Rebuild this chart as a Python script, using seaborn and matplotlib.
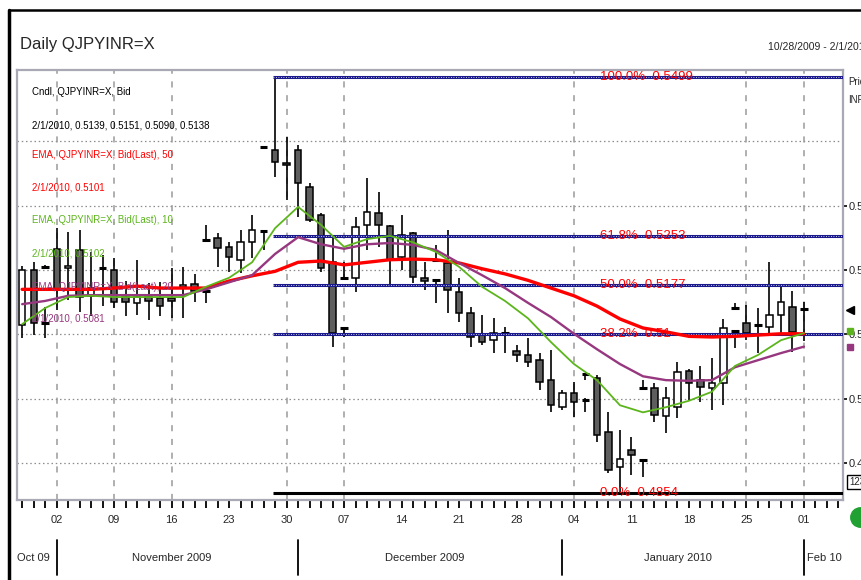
import matplotlib
matplotlib.use('Agg')
import numpy as np
import pandas as pd
import seaborn as sns
from matplotlib import pyplot as plt
from matplotlib.lines import Line2D
from matplotlib.transforms import blended_transform_factory

sns.set_style('white')
plt.rcParams['font.family'] = ['Liberation Sans', 'DejaVu Sans']

# trading days, 10/28/2009 - 2/1/2010
days = pd.bdate_range('2009-10-28', '2010-02-01')

opens = [0.5115, 0.5200, 0.5205, 0.5233, 0.5203, 0.5231, 0.5160, 0.5203, 0.5200, 0.5158,
         0.5149, 0.5158, 0.5157, 0.5157, 0.5174, 0.5178, 0.5247, 0.5250, 0.5236, 0.5216,
         0.5243, 0.5261, 0.5386, 0.5366, 0.5386, 0.5329, 0.5285, 0.5212, 0.5110, 0.5188,
         0.5270, 0.5289, 0.5268, 0.5220, 0.5257, 0.5188, 0.5184, 0.5211, 0.5166, 0.5133,
         0.5099, 0.5091, 0.5102, 0.5074, 0.5068, 0.5060, 0.5029, 0.4987, 0.5009, 0.4998,
         0.5032, 0.4948, 0.4894, 0.4920, 0.4905, 0.5017, 0.4973, 0.4987, 0.5043, 0.5029,
         0.5017, 0.5025, 0.5105, 0.5118, 0.5115, 0.5111, 0.5130, 0.5143, 0.5139]
highs = [0.5206, 0.5212, 0.5208, 0.5265, 0.5259, 0.5262, 0.5228, 0.5223, 0.5219, 0.5183,
         0.5216, 0.5180, 0.5181, 0.5203, 0.5205, 0.5194, 0.5270, 0.5257, 0.5243, 0.5262,
         0.5285, 0.5262, 0.5499, 0.5407, 0.5394, 0.5335, 0.5289, 0.5254, 0.5112, 0.5282,
         0.5343, 0.5321, 0.5270, 0.5285, 0.5259, 0.5212, 0.5184, 0.5262, 0.5188, 0.5143,
         0.5130, 0.5125, 0.5111, 0.5084, 0.5094, 0.5071, 0.5076, 0.5014, 0.5026, 0.5001,
         0.5037, 0.4979, 0.4952, 0.4941, 0.4905, 0.5025, 0.5018, 0.5057, 0.5046, 0.5051,
         0.5063, 0.5124, 0.5107, 0.5146, 0.5141, 0.5212, 0.5177, 0.5167, 0.5151]
lows = [0.5094, 0.5099, 0.5203, 0.5138, 0.5153, 0.5135, 0.5129, 0.5144, 0.5141, 0.5129,
        0.5130, 0.5122, 0.5129, 0.5125, 0.5125, 0.5150, 0.5246, 0.5205, 0.5197, 0.5195,
        0.5219, 0.5231, 0.5344, 0.5309, 0.5282, 0.5275, 0.5197, 0.5080, 0.5096, 0.5166,
        0.5231, 0.5236, 0.5174, 0.5200, 0.5180, 0.5169, 0.5149, 0.5133, 0.5119, 0.5080,
        0.5084, 0.5071, 0.5071, 0.5057, 0.5049, 0.5014, 0.4979, 0.4982, 0.4972, 0.4979,
        0.4933, 0.4885, 0.4854, 0.4882, 0.4879, 0.4964, 0.4947, 0.4970, 0.4998, 0.4995,
        0.4983, 0.4990, 0.5079, 0.5091, 0.5071, 0.5102, 0.5102, 0.5073, 0.5090]
closes = [0.5200, 0.5118, 0.5205, 0.5170, 0.5206, 0.5158, 0.5172, 0.5202, 0.5150, 0.5150,
          0.5158, 0.5152, 0.5144, 0.5152, 0.5177, 0.5167, 0.5247, 0.5234, 0.5220, 0.5243,
          0.5262, 0.5261, 0.5368, 0.5363, 0.5335, 0.5278, 0.5203, 0.5102, 0.5109, 0.5267,
          0.5290, 0.5270, 0.5216, 0.5254, 0.5189, 0.5183, 0.5183, 0.5169, 0.5133, 0.5096,
          0.5088, 0.5102, 0.5101, 0.5068, 0.5057, 0.5026, 0.4990, 0.5009, 0.4995, 0.4997,
          0.4944, 0.4889, 0.4906, 0.4913, 0.4904, 0.4975, 0.5001, 0.5042, 0.5025, 0.5018,
          0.5025, 0.5110, 0.5104, 0.5102, 0.5114, 0.5130, 0.5150, 0.5104, 0.5138]

# extra tick marks drawn on gap days
gap_idx = [2, 16, 21, 28, 36, 49, 54, 62]
gap_level = [0.5118, 0.5167, 0.5391, 0.5188, 0.5216, 0.5038, 0.5017, 0.5141]
gap_high = [0.5143, 0.5172, 0.5391, 0.5212, 0.5239, 0.5038, 0.5029, 0.5149]
gap_low = [0.5094, 0.5149, 0.5391, 0.5188, 0.5216, 0.5029, 0.5017, 0.5141]

# moving averages, read every second day
ema_idx = list(range(0, 69, 2))
ema50 = [0.5170, 0.5170, 0.5170, 0.5170, 0.5172, 0.5175, 0.5172, 0.5172, 0.5172, 0.5183,
         0.5191, 0.5198, 0.5212, 0.5214, 0.5208, 0.5212, 0.5216, 0.5217, 0.5216, 0.5211,
         0.5202, 0.5194, 0.5184, 0.5172, 0.5160, 0.5144, 0.5124, 0.5110, 0.5104, 0.5097,
         0.5096, 0.5097, 0.5099, 0.5101, 0.5101]
ema10 = [0.5116, 0.5141, 0.5158, 0.5160, 0.5158, 0.5158, 0.5158, 0.5158, 0.5174, 0.5188,
         0.5212, 0.5265, 0.5298, 0.5270, 0.5236, 0.5248, 0.5253, 0.5243, 0.5228, 0.5205,
         0.5174, 0.5152, 0.5125, 0.5088, 0.5054, 0.5029, 0.4990, 0.4979, 0.4987, 0.4997,
         0.5011, 0.5051, 0.5068, 0.5091, 0.5102]
ema20 = [0.5147, 0.5152, 0.5160, 0.5161, 0.5161, 0.5161, 0.5161, 0.5161, 0.5170, 0.5181,
         0.5192, 0.5225, 0.5251, 0.5240, 0.5233, 0.5240, 0.5242, 0.5239, 0.5231, 0.5211,
         0.5192, 0.5172, 0.5149, 0.5127, 0.5101, 0.5077, 0.5054, 0.5035, 0.5029, 0.5028,
         0.5029, 0.5049, 0.5060, 0.5071, 0.5081]

fib_pct = ['100.0%', '61.8%', '50.0%', '38.2%', '0.0%']
fib_val = [0.5499, 0.5253, 0.5177, 0.5100, 0.4854]
fib_txt = ['0.5499', '0.5253', '0.5177', '0.51', '0.4854']
fib_start = 22   # swing high, Nov 27

grid_days = [3, 8, 13, 23, 28, 48, 63, 68]
price_ticks = [0.49, 0.50, 0.51, 0.52, 0.53]
price_labels = ['0.49', '0.5', '0.51', '0.52', '0.53']
month_names = ['Oct 09', 'November 2009', 'December 2009', 'January 2010', 'Feb 10']

RED = '#ff0000'
GREEN = '#5cb51c'
PURPLE = '#96377f'
NAVY = '#1a1a8c'

fig = plt.figure(figsize=(8.62, 5.8), dpi=100)
ax = fig.add_axes([17 / 862, 80 / 580, 826 / 862, 430 / 580])
xmax = 71.4
ax.set_xlim(-0.45, xmax)
ax.set_ylim(0.48429, 0.55106)

# grid
for p in [0.49, 0.50, 0.51, 0.52, 0.53, 0.54]:
    ax.axhline(p, color='#8c8c8c', lw=0.9, ls=(0, (1.2, 2.2)), zorder=1)
for d in grid_days:
    ax.axvline(d, color='#9a9a9a', lw=1.1, ls=(0, (4, 5)), zorder=1)

# candles
o = np.array(opens)
c = np.array(closes)
h = np.array(highs)
l = np.array(lows)
x = np.arange(len(o))
body = np.abs(c - o)
doji = body < 0.00015
ax.vlines(x, l, h, color='black', lw=1.2, zorder=3)
ax.bar(x[~doji], body[~doji], bottom=np.minimum(o, c)[~doji], width=0.55,
       color=np.where(c > o, 'white', '#5e5e5e')[~doji], edgecolor='black', linewidth=1.1, zorder=4)
ax.hlines(o[doji], x[doji] - 0.32, x[doji] + 0.32, color='black', lw=2.2, zorder=4)
ax.vlines(gap_idx, gap_low, gap_high, color='black', lw=1.2, zorder=3)
ax.hlines(gap_level, np.array(gap_idx) - 0.32, np.array(gap_idx) + 0.32, color='black', lw=2.2, zorder=4)

# fibonacci retracement
ty = blended_transform_factory(ax.transAxes, ax.transData)
for pct, v, t in zip(fib_pct, fib_val, fib_txt):
    col = 'black' if pct == '0.0%' else NAVY
    ax.hlines(v, fib_start - 0.2, xmax, color=col, lw=2.2, zorder=5)
    if col == NAVY:
        ax.hlines(v, fib_start - 0.2, xmax, color='white', lw=0.6, ls=(0, (1, 2)), zorder=5)
    ax.text(0.706, v, pct + '  ' + t, transform=ty, color=RED, fontsize=9.5,
            va='center', ha='left', zorder=7)

# moving averages
ema = pd.DataFrame({'day': ema_idx, 'ema50': ema50, 'ema10': ema10, 'ema20': ema20})
sns.lineplot(data=ema, x='day', y='ema50', ax=ax, color=RED, lw=2.4, zorder=6)
sns.lineplot(data=ema, x='day', y='ema20', ax=ax, color=PURPLE, lw=1.7, zorder=6)
sns.lineplot(data=ema, x='day', y='ema10', ax=ax, color=GREEN, lw=1.3, zorder=6)

# legend block
legend_lines = [
    ('Cndl, QJPYINR=X, Bid', 'black', 0.949),
    ('2/1/2010, 0.5139, 0.5151, 0.5090, 0.5138', 'black', 0.872),
    ('EMA, QJPYINR=X, Bid(Last), 50', RED, 0.802),
    ('2/1/2010, 0.5101', RED, 0.726),
    ('EMA, QJPYINR=X, Bid(Last), 10', GREEN, 0.651),
    ('2/1/2010, 0.5102', GREEN, 0.574),
    ('EMA, QJPYINR=X, Bid(Last), 20', PURPLE, 0.495),
    ('2/1/2010, 0.5081', PURPLE, 0.423),
]
for txt, col, yy in legend_lines:
    ax.text(0.018, yy, txt, transform=ax.transAxes, color=col, fontsize=7, va='center', zorder=8)

# axes styling
ax.set_xlabel('')
ax.set_ylabel('')
for s in ax.spines.values():
    s.set_color('#a9a9b6')
    s.set_linewidth(1.6)
mondays = [d for d in range(len(days)) if days[d].weekday() == 0]
ax.set_xticks(mondays)
ax.set_xticklabels([days[d].strftime('%d') for d in mondays])
ax.set_xticks(range(0, 72), minor=True)
ax.tick_params(axis='x', which='both', direction='out', length=6, width=1.3, color='black',
               labelsize=8, pad=5, bottom=True)
ax.yaxis.tick_right()
ax.set_yticks(price_ticks)
ax.set_yticklabels(price_labels)
ax.tick_params(axis='y', direction='out', length=3, width=1.2, color='black', labelsize=8, pad=1, right=True)

# month row
tx = blended_transform_factory(ax.transData, ax.transAxes)
month_start = [0] + [i for i in range(1, len(days)) if days[i].month != days[i - 1].month]
for s in month_start[1:]:
    ax.plot([s, s], [-0.093, -0.174], color='black', lw=1.3, transform=tx, clip_on=False)
bounds = month_start + [len(days) + 2]
for k, name in enumerate(month_names):
    if k == len(month_names) - 1:
        ax.text(month_start[k] + 0.3, -0.135, name, transform=tx, ha='left', va='center', fontsize=8)
    else:
        mid = (bounds[k] + bounds[k + 1] - 1) / 2
        ax.text(mid, -0.135, name, transform=tx, ha='center', va='center', fontsize=8)

# right side tags
ax.text(1.006, 0.972, 'Price', transform=ax.transAxes, fontsize=7, va='center')
ax.text(1.006, 0.930, 'INR', transform=ax.transAxes, fontsize=7, va='center')
ax.plot([1.009], [closes[-1]], marker='<', ms=6, color='black', transform=ty, clip_on=False)
ax.plot([1.009], [0.5106], marker='s', ms=5, color=GREEN, transform=ty, clip_on=False)
ax.plot([1.009], [0.5080], marker='s', ms=5, color=PURPLE, transform=ty, clip_on=False)
fig.text(849 / 862, 1 - 482 / 580, '123', fontsize=7, va='center',
         bbox=dict(facecolor='white', edgecolor='black', pad=1.5))
fig.add_artist(Line2D([860 / 862], [1 - 517 / 580], marker='o', ms=14, color='#21a132',
                      transform=fig.transFigure))

# header and outer frame
fig.text(20 / 862, 1 - 45 / 580, 'Daily QJPYINR=X', fontsize=12, va='center')
fig.text(768 / 862, 1 - 47 / 580, '10/28/2009 - 2/1/2010 (CET)', fontsize=7.5, va='center')
fig.add_artist(Line2D([9.5 / 862, 9.5 / 862], [0, 1 - 10 / 580], lw=2.5, color='black',
                      transform=fig.transFigure))
fig.add_artist(Line2D([9.5 / 862, 1], [1 - 10 / 580, 1 - 10 / 580], lw=1.8, color='black',
                      transform=fig.transFigure))

fig.savefig('out.png', dpi=100)
